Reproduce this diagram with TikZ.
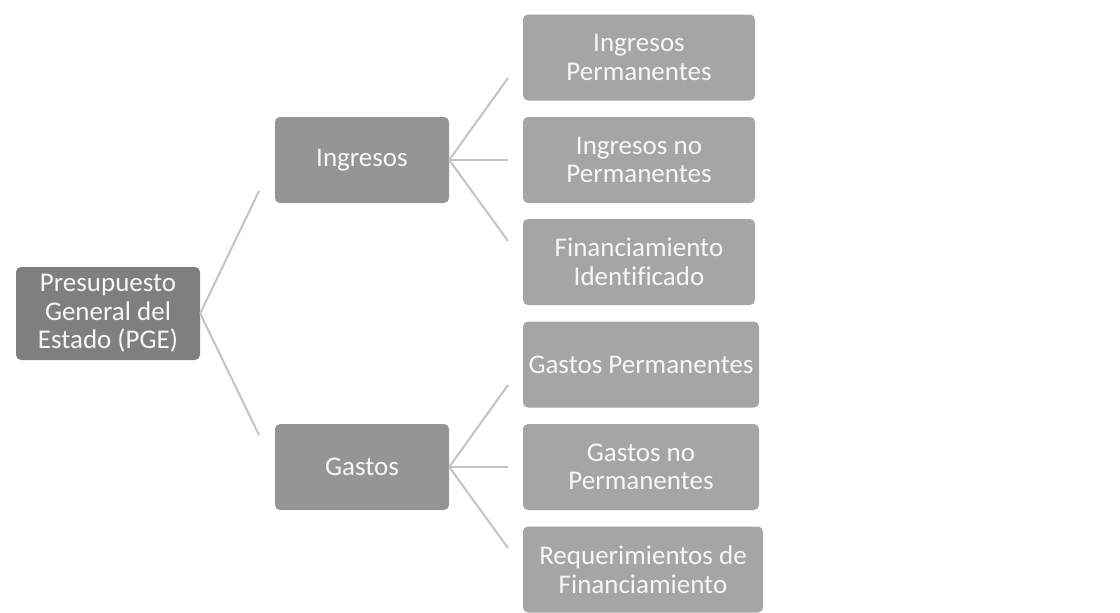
\documentclass[tikz,border=0pt]{standalone}
\usepackage{fontspec}
\setmainfont[RawFeature={-liga}]{Carlito}
\definecolor{rootc}{HTML}{7F7F7F}
\definecolor{midc}{HTML}{959595}
\definecolor{leafc}{HTML}{A5A5A5}
\definecolor{linec}{HTML}{C3C3C3}
\definecolor{txtc}{HTML}{F7F7F7}
\begin{document}
\begin{tikzpicture}[x=1pt,y=-1pt,
  box/.style={rounded corners=5pt, inner sep=0pt, align=center, text=txtc,
    font=\fontsize{27}{28.5}\selectfont},
  rootbox/.style={box, fill=rootc, minimum width=184pt, minimum height=93pt},
  midbox/.style={box, fill=midc, minimum width=174pt, minimum height=86pt},
  leafbox/.style={box, fill=leafc, minimum height=86pt},
  conn/.style={draw=linec, line width=2pt}]
\useasboundingbox (0,0) rectangle (1120,613);
\node[rootbox] (pge) at (108,313.5) {Presupuesto\\General del\\Estado (PGE)};
\node[midbox] (ing) at (362,160) {Ingresos};
\node[midbox] (gas) at (362,467) {Gastos};
\node[leafbox, minimum width=232pt] (ip) at (639,57.5) {Ingresos\\Permanentes};
\node[leafbox, minimum width=232pt] (inp) at (639,160) {Ingresos no\\Permanentes};
\node[leafbox, minimum width=232pt] (fi) at (639,262) {Financiamiento\\Identificado};
\node[leafbox, minimum width=236pt] (gp) at (641,364.5) {Gastos Permanentes};
\node[leafbox, minimum width=236pt] (gnp) at (641,467) {Gastos no\\Permanentes};
\node[leafbox, minimum width=240pt] (rf) at (643,569.5) {Requerimientos de\\Financiamiento};
\coordinate (c1) at (259,191);
\coordinate (c2) at (259,435);
\coordinate (c3) at (508,78);
\coordinate (c4) at (508,160);
\coordinate (c5) at (508,241);
\coordinate (c6) at (508,385);
\coordinate (c7) at (508,467);
\coordinate (c8) at (508,548);
\draw[conn] (pge.east) -- (c1);
\draw[conn] (pge.east) -- (c2);
\draw[conn] (ing.east) -- (c3);
\draw[conn] (ing.east) -- (c4);
\draw[conn] (ing.east) -- (c5);
\draw[conn] (gas.east) -- (c6);
\draw[conn] (gas.east) -- (c7);
\draw[conn] (gas.east) -- (c8);
\end{tikzpicture}
\end{document}
